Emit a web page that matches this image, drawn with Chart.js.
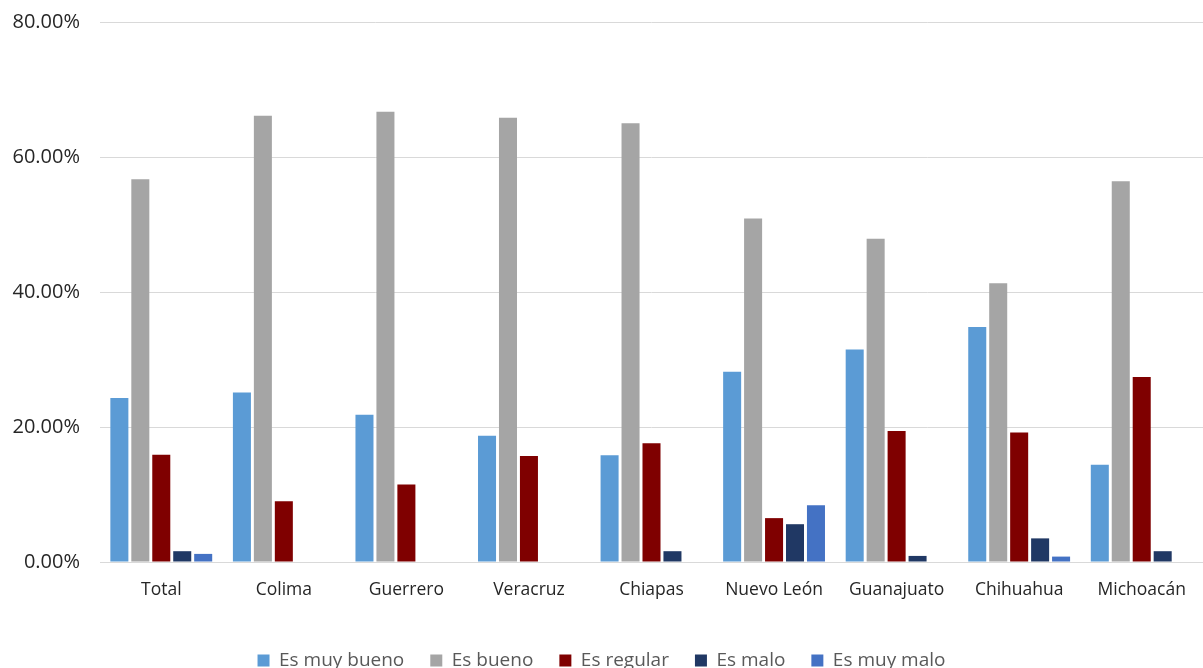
<!DOCTYPE html>
<html>
<head>
<meta charset="utf-8">
<script src="https://cdn.jsdelivr.net/npm/chart.js@4/dist/chart.umd.min.js"></script>
<style>
  html, body { margin: 0; padding: 0; background: #fff; }
  #wrap { width: 1203px; height: 668px; }
</style>
</head>
<body>
<div id="wrap"><canvas id="chart"></canvas></div>
<script>
const categories = ['Total', 'Colima', 'Guerrero', 'Veracruz', 'Chiapas', 'Nuevo León', 'Guanajuato', 'Chihuahua', 'Michoacán'];

const muyBueno = [24.3, 25.1, 21.8, 18.7, 15.8, 28.2, 31.5, 34.8, 14.4];
const bueno = [56.7, 66.1, 66.7, 65.8, 65.0, 50.9, 47.9, 41.3, 56.4];
const regular = [15.9, 9.0, 11.5, 15.7, 17.6, 6.5, 19.4, 19.2, 27.4];
const malo = [1.6, 0, 0, 0, 1.6, 5.6, 0.9, 3.5, 1.6];
const muyMalo = [1.2, 0, 0, 0, 0, 8.4, 0, 0.8, 0];

const yTicks = [0, 20, 40, 60, 80];

const seriesColors = {
  muyBueno: '#5B9BD5',
  bueno: '#A5A5A5',
  regular: '#7F0000',
  malo: '#203864',
  muyMalo: '#4472C4',
};

const font = "'Open Sans', 'Liberation Sans', sans-serif";

function makeSet(label, data, color) {
  return {
    label,
    data,
    backgroundColor: color,
    borderWidth: 0,
    categoryPercentage: 0.855,
    barPercentage: 0.86,
  };
}

new Chart(document.getElementById('chart'), {
  type: 'bar',
  data: {
    labels: categories,
    datasets: [
      makeSet('Es muy bueno', muyBueno, seriesColors.muyBueno),
      makeSet('Es bueno', bueno, seriesColors.bueno),
      makeSet('Es regular', regular, seriesColors.regular),
      makeSet('Es malo', malo, seriesColors.malo),
      makeSet('Es muy malo', muyMalo, seriesColors.muyMalo),
    ],
  },
  options: {
    responsive: true,
    maintainAspectRatio: false,
    animation: false,
    layout: {
      // legend sits partly below the bottom edge, like the original
      padding: { top: 4, right: 0, bottom: -12, left: 0 },
    },
    plugins: {
      tooltip: { enabled: false },
      legend: {
        position: 'bottom',
        labels: {
          boxWidth: 12,
          boxHeight: 12,
          padding: 26,
          color: '#595959',
          font: { family: font, size: 19 },
        },
      },
    },
    scales: {
      x: {
        afterFit: (scale) => { scale.height = 63; },
        grid: { display: false },
        border: { display: true, color: '#d9d9d9' },
        ticks: {
          color: '#262626',
          padding: 10,
          font: { family: font, size: 17.5 },
        },
      },
      y: {
        min: 0,
        max: 80,
        afterFit: (scale) => { scale.width = 100; },
        afterBuildTicks: (scale) => {
          scale.ticks = yTicks.map((v) => ({ value: v }));
        },
        grid: { color: '#d9d9d9', drawTicks: false },
        border: { display: false },
        ticks: {
          color: '#262626',
          padding: 20,
          // small lineHeight keeps the top label from pushing the plot down
          font: { family: font, size: 20, lineHeight: 0.2 },
          callback: (v) => v.toFixed(2) + '%',
        },
      },
    },
  },
});
</script>
</body>
</html>
